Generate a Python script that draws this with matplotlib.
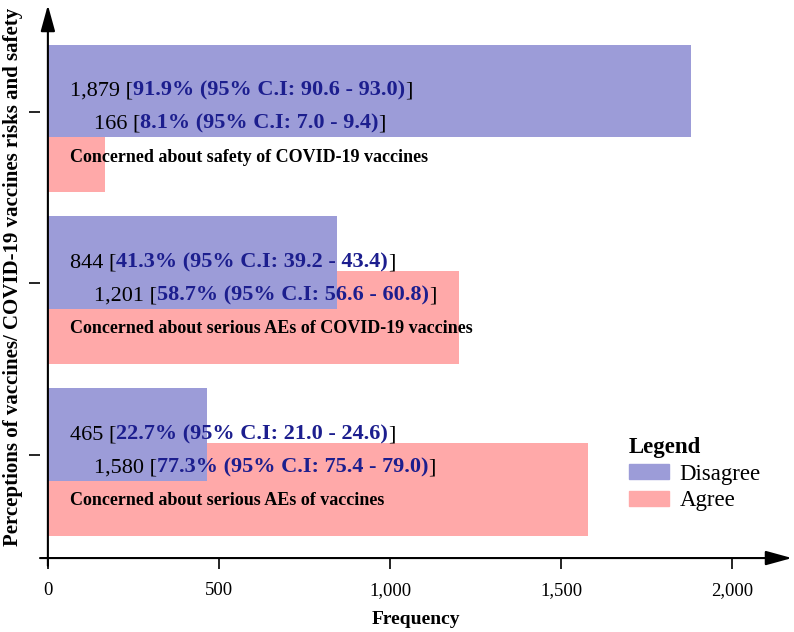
import numpy as np
import matplotlib
matplotlib.use("Agg")
import matplotlib.pyplot as plt
from matplotlib.patches import Patch

plt.rcParams['font.family'] = ['Liberation Serif', 'DejaVu Serif']

# data (bottom to top)
categories = ["Concerned about serious AEs of vaccines",
              "Concerned about serious AEs of COVID-19 vaccines",
              "Concerned about safety of COVID-19 vaccines"]
disagree = [465, 844, 1879]
agree = [1580, 1201, 166]
dis_pct = [22.7, 41.3, 91.9]
dis_lo = [21.0, 39.2, 90.6]
dis_hi = [24.6, 43.4, 93.0]
agr_pct = [77.3, 58.7, 8.1]
agr_lo = [75.4, 56.6, 7.0]
agr_hi = [79.0, 60.8, 9.4]
xticks = [0, 500, 1000, 1500, 2000]

blue = '#9c9cd8'
pink = '#ffa9a9'
navy = '#1c1e8e'

fig = plt.figure(figsize=(7.94, 6.32), dpi=100)
ax = fig.add_axes([0.0504, 0.117, 0.947, 0.875])

y = np.arange(len(categories))
h = 0.54
ax.barh(y - 0.20, agree, height=h, color=pink, label='Agree')
ax.barh(y + 0.12, disagree, height=h, color=blue, label='Disagree')

ax.set_xlim(-23, 2175)
ax.set_ylim(-0.60, 2.62)

for s in ax.spines.values():
    s.set_visible(False)

# axes with arrows
arrow = dict(arrowstyle='-|>,head_length=0.8,head_width=0.22', color='black', lw=1.5,
             mutation_scale=20, shrinkA=0, shrinkB=0)
ax.annotate('', xy=(2175, -0.60), xytext=(-23, -0.60), arrowprops=arrow,
            annotation_clip=False)
ax.annotate('', xy=(0, 2.62), xytext=(0, -0.645), arrowprops=arrow,
            annotation_clip=False)

ax.set_xticks(xticks)
ax.set_xticklabels([f"{t:,}" for t in xticks])
ax.set_yticks(y)
ax.set_yticklabels([])
ax.tick_params(axis='both', direction='out', length=8, width=1.2, labelsize=13.5)
ax.tick_params(axis='x', pad=9)
ax.set_xlabel('Frequency', fontweight='bold', fontsize=14, labelpad=9)
fig.text(13 / 794, 1 - 277 / 632,
         'Perceptions of vaccines/ COVID-19 vaccines risks and safety',
         rotation=90, fontweight='bold', fontsize=15, ha='center', va='center')

fs = 16
fs_lab = 13

def mixed_line(x, yy, count, pct, lo, hi):
    t1 = ax.text(x, yy, f"{count:,} [", fontsize=fs, color='black', va='center')
    t2 = ax.annotate(f"{pct:.1f}% (95% C.I: {lo:.1f} - {hi:.1f})", xy=(1, 0), xycoords=t1,
                     va='bottom', fontsize=fs, color=navy, fontweight='bold')
    ax.annotate("]", xy=(1, 0), xycoords=t2, va='bottom', fontsize=fs, color='black')

for i in range(len(categories)):
    mixed_line(64, y[i] + 0.118, disagree[i], dis_pct[i], dis_lo[i], dis_hi[i])
    mixed_line(134, y[i] - 0.075, agree[i], agr_pct[i], agr_lo[i], agr_hi[i])
    ax.text(64, y[i] - 0.265, categories[i], fontsize=fs_lab, fontweight='bold',
            color='black', va='center')

handles = [Patch(color=blue, label='Disagree'), Patch(color=pink, label='Agree')]
fig.legend(handles=handles, title='Legend', loc='upper left',
           bbox_to_anchor=(629 / 794, 1 - 437 / 632), frameon=False,
           fontsize=16.5, title_fontproperties={'weight': 'bold', 'size': 16.5},
           alignment='left', handlelength=1.75, handleheight=0.6,
           handletextpad=0.45, labelspacing=0.25, borderpad=0, borderaxespad=0)

fig.savefig('out.png', dpi=100)
